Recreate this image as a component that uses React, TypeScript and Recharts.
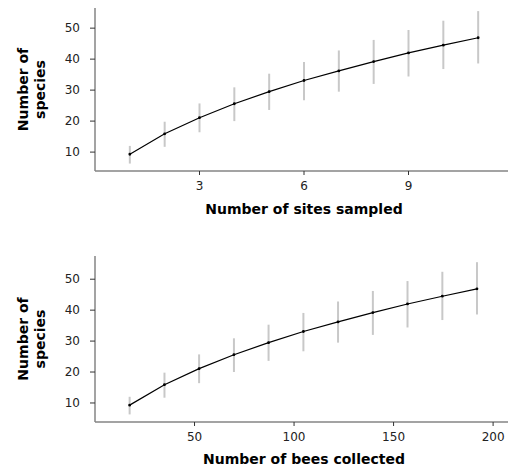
import React from 'react';
import { LineChart, Line, XAxis, YAxis, ErrorBar, Label } from 'recharts';

const sites = [1, 2, 3, 4, 5, 6, 7, 8, 9, 10, 11];
const bees = [17.4, 34.9, 52.3, 69.8, 87.2, 104.7, 122.1, 139.6, 157.0, 174.5, 191.9];
const species = [9.3, 15.9, 21.1, 25.6, 29.5, 33.1, 36.2, 39.2, 42.0, 44.5, 46.9];
const lower = [6.3, 11.7, 16.4, 20.0, 23.6, 26.7, 29.5, 32.0, 34.4, 36.8, 38.6];
const upper = [12.0, 19.8, 25.7, 30.9, 35.3, 39.1, 42.8, 46.2, 49.4, 52.4, 55.5];
const siteTicks = [3, 6, 9];
const beeTicks = [50, 100, 150, 200];
const yTicks = [10, 20, 30, 40, 50];

const FONT = 'DejaVu Sans, sans-serif';

const siteData = sites.map((x, i) => ({ x, y: species[i], err: [species[i] - lower[i], upper[i] - species[i]] }));
const beeData = bees.map((x, i) => ({ x, y: species[i], err: [species[i] - lower[i], upper[i] - species[i]] }));

const YTitle = (props: any) => {
  const vb = props.viewBox || {};
  const cy = vb.y + vb.height / 2;
  const x1 = 28;
  const x2 = 45;
  return (
    <g>
      <text transform={`rotate(-90, ${x1}, ${cy})`} x={x1} y={cy} textAnchor="middle" fontFamily={FONT} fontWeight="bold" fontSize={14} fill="#000">Number of</text>
      <text transform={`rotate(-90, ${x2}, ${cy})`} x={x2} y={cy} textAnchor="middle" fontFamily={FONT} fontWeight="bold" fontSize={14} fill="#000">species</text>
    </g>
  );
};

const Panel = ({ data, xDomain, xTicks, yDomain, title, top, mTop, xH, tOff }: any) => (
  <div style={{ position: 'absolute', left: 0, top }}>
    <LineChart width={513} height={mTop + (yDomain.h) + xH} data={data} margin={{ top: mTop, right: 0, bottom: 0, left: 0 }}>
      <XAxis
        type="number"
        dataKey="x"
        domain={xDomain}
        ticks={xTicks}
        allowDataOverflow
        height={xH}
        tickSize={4}
        tickMargin={6}
        axisLine={{ stroke: '#858585', strokeWidth: 1.5 }}
        tickLine={{ stroke: '#333', strokeWidth: 1 }}
        tick={{ fontSize: 12, fontFamily: FONT, fill: '#222' }}
      >
        <Label value={title} position="insideBottom" offset={tOff} style={{ fontSize: 14, fontFamily: FONT, fontWeight: 'bold', fill: '#000' }} />
      </XAxis>
      <YAxis
        type="number"
        domain={yDomain.d}
        ticks={yTicks}
        allowDataOverflow
        width={95}
        tickSize={5}
        tickMargin={10}
        axisLine={{ stroke: '#858585', strokeWidth: 1.5 }}
        tickLine={{ stroke: '#333', strokeWidth: 1 }}
        tick={{ fontSize: 12, fontFamily: FONT, fill: '#222' }}
      >
        <Label content={YTitle} />
      </YAxis>
      <Line dataKey="y" stroke="#000" strokeWidth={1.2} isAnimationActive={false} dot={{ r: 0.8, fill: '#000', stroke: '#000' }} activeDot={false}>
        <ErrorBar dataKey="err" width={0} stroke="#c8c8c8" strokeWidth={2} direction="y" isAnimationActive={false} />
      </Line>
    </LineChart>
  </div>
);

export default function App() {
  return (
    <div style={{ position: 'fixed', left: 0, top: 0, width: 508, height: 467, overflow: 'hidden', background: '#fff' }}>
      <Panel data={siteData} xDomain={[0, 12]} xTicks={siteTicks} yDomain={{ d: [3.9, 56.5], h: 163 }} title="Number of sites sampled" top={0} mTop={8} xH={50} tOff={7} />
      <Panel data={beeData} xDomain={[0, 210]} xTicks={beeTicks} yDomain={{ d: [3.85, 57.5], h: 166 }} title="Number of bees collected" top={236} mTop={20} xH={45} tOff={3} />
    </div>
  );
}
